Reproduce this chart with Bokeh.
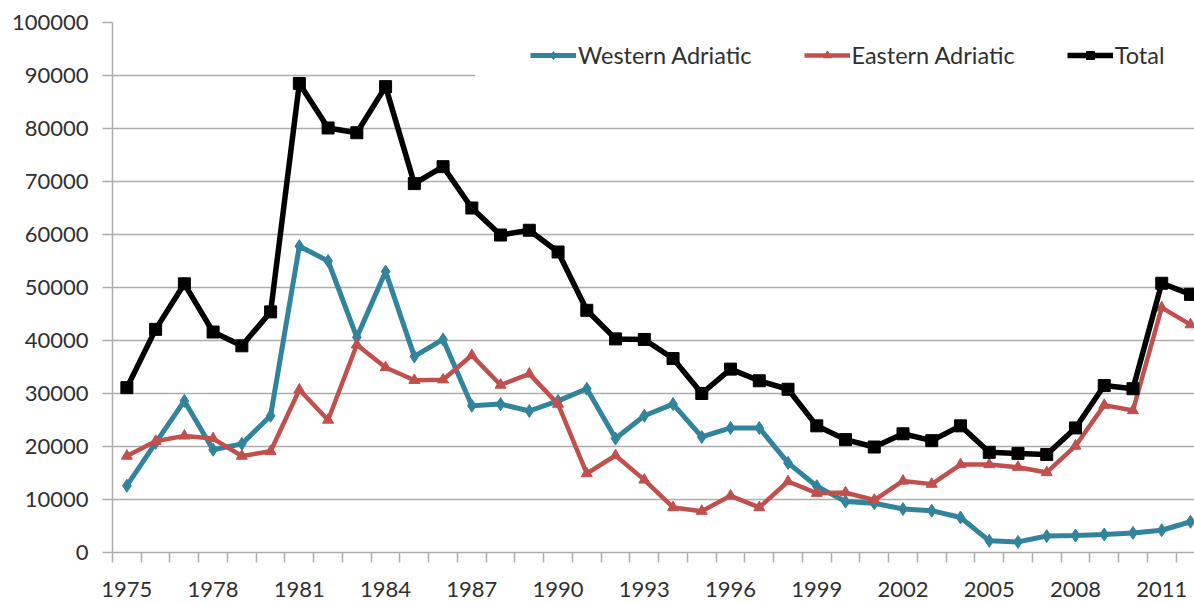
from bokeh.plotting import figure
from bokeh.models import FixedTicker, Legend, LegendItem, BoxAnnotation, Range1d
from bokeh.embed import file_html
from bokeh.resources import INLINE

years = [1975, 1976, 1977, 1978, 1979, 1980, 1981, 1982, 1983, 1984,
         1985, 1986, 1987, 1988, 1989, 1990, 1991, 1992, 1993, 1994,
         1995, 1996, 1997, 1998, 1999, 2000, 2001, 2002, 2003, 2004,
         2005, 2006, 2007, 2008, 2009, 2010, 2011, 2012]

western = [12600, 20700, 28600, 19400, 20500, 25800, 57800, 55000, 40600, 53000,
           37000, 40200, 27700, 28000, 26700, 28600, 30900, 21500, 25800, 28000,
           21800, 23500, 23500, 16900, 12500, 9600, 9300, 8200, 7900, 6600,
           2200, 2000, 3100, 3200, 3400, 3700, 4200, 5800]

eastern = [18200, 21000, 22000, 21500, 18200, 19100, 30700, 25000, 39200, 34900,
           32500, 32600, 37200, 31600, 33700, 28000, 14900, 18300, 13700, 8500,
           7800, 10700, 8500, 13400, 11200, 11300, 9900, 13500, 12900, 16600,
           16600, 16100, 15100, 20100, 27800, 26800, 46200, 43000]

total = [31100, 42100, 50700, 41600, 39000, 45400, 88500, 80100, 79200, 87900,
         69600, 72800, 65000, 59900, 60800, 56700, 45700, 40300, 40200, 36600,
         30000, 34600, 32400, 30800, 23900, 21300, 19900, 22400, 21100, 23900,
         18900, 18700, 18500, 23500, 31500, 30900, 50800, 48700]

x_label_years = [1975, 1978, 1981, 1984, 1987, 1990, 1993, 1996, 1999, 2002, 2005, 2008, 2011]
y_ticks = [0, 10000, 20000, 30000, 40000, 50000, 60000, 70000, 80000, 90000, 100000]

series_names = ["Western Adriatic", "Eastern Adriatic", "Total"]

TEAL = "#31849B"
RED = "#C0504D"
BLACK = "#000000"
GRID = "#ADADAD"
TEXT = "#303030"
FONT = "Lato"

x_start = years[0] - 0.5
x_end = 2012.14

p = figure(width=1194, height=603, output_backend="svg", toolbar_location=None,
           x_range=Range1d(x_start, x_end), y_range=Range1d(y_ticks[0], y_ticks[-1]),
           min_border_left=112, min_border_right=0, min_border_top=22, min_border_bottom=51)
p.outline_line_color = None
p.background_fill_color = "white"
p.border_fill_color = "white"

p.xgrid.grid_line_color = None
p.ygrid.grid_line_color = GRID
p.ygrid.grid_line_width = 1.5
p.ygrid.ticker = FixedTicker(ticks=y_ticks)

# y axis
p.yaxis.ticker = FixedTicker(ticks=y_ticks)
p.yaxis.major_label_overrides = {t: str(t) for t in y_ticks}
p.yaxis.axis_line_color = GRID
p.yaxis.axis_line_width = 1.5
p.yaxis.major_tick_line_color = GRID
p.yaxis.major_tick_line_width = 1.5
p.yaxis.major_tick_out = 10
p.yaxis.major_tick_in = 0
p.yaxis.minor_tick_line_color = None
p.yaxis.major_label_text_font = FONT
p.yaxis.major_label_text_font_size = "22px"
p.yaxis.major_label_text_color = TEXT
p.yaxis.major_label_standoff = 14

# x axis: labels every 3 years, ticks on category boundaries
p.xaxis.ticker = FixedTicker(ticks=x_label_years,
                             minor_ticks=[y - 0.5 for y in years] + [years[-1] + 0.5])
p.xaxis.major_label_overrides = {t: str(t) for t in x_label_years}
p.xaxis.axis_line_color = GRID
p.xaxis.axis_line_width = 1.5
p.xaxis.major_tick_out = 0
p.xaxis.major_tick_in = 0
p.xaxis.major_tick_line_color = None
p.xaxis.minor_tick_line_color = GRID
p.xaxis.minor_tick_line_width = 1.5
p.xaxis.minor_tick_out = 10
p.xaxis.minor_tick_in = 0
p.xaxis.major_label_text_font = FONT
p.xaxis.major_label_text_font_size = "22px"
p.xaxis.major_label_text_color = TEXT
p.xaxis.major_label_standoff = 19

rw = p.line(years, western, line_color=TEAL, line_width=5)
sw = p.scatter(years, western, marker="diamond", size=13, fill_color=TEAL, line_color=TEAL)
re_ = p.line(years, eastern, line_color=RED, line_width=4.5)
se = p.scatter(years, eastern, marker="triangle", size=11, fill_color=RED, line_color=RED)
rt = p.line(years, total, line_color=BLACK, line_width=5.5)
st = p.scatter(years, total, marker="square", size=12, fill_color=BLACK, line_color=BLACK)

# white legend area hiding part of the grid (as in the original chart)
mask = BoxAnnotation(left=1987.12, right=x_end, bottom=81500, top=98500,
                     fill_color="white", fill_alpha=1.0, line_color=None, level="glyph")
p.add_layout(mask)

legend = Legend(items=[LegendItem(label=series_names[0], renderers=[rw, sw]),
                       LegendItem(label=series_names[1], renderers=[re_, se]),
                       LegendItem(label=series_names[2], renderers=[rt, st])],
                orientation="horizontal", location=(418, 483),
                glyph_width=46, glyph_height=20, label_standoff=2, spacing=52,
                padding=5, margin=0, background_fill_alpha=0, border_line_color=None,
                label_text_font=FONT, label_text_font_size="23.5px", label_text_color=TEXT)
p.add_layout(legend)

open("out.html", "w").write(file_html(p, INLINE))
